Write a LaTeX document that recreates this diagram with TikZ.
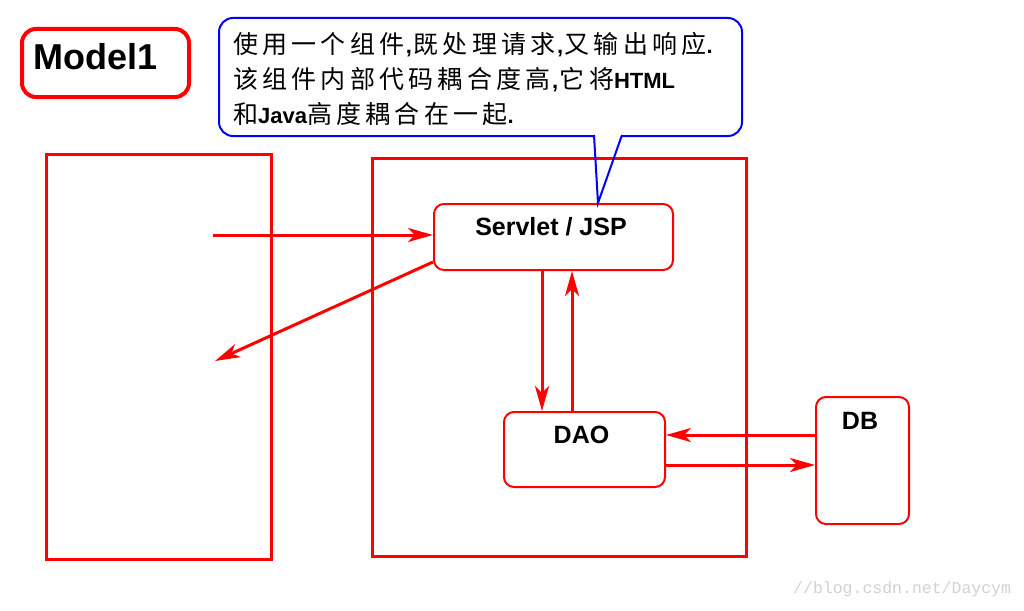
\documentclass[tikz,border=0pt]{standalone}
\usepackage{fontspec}
\setmainfont{Liberation Sans}
\newfontfamily\cjkfont[LetterSpace=17]{Noto Sans CJK SC}
\newfontfamily\wmfont{Liberation Mono}
\usetikzlibrary{arrows.meta,calc}
\newcommand\cj[1]{{\cjkfont\mdseries\fontsize{25}{34}\selectfont #1}}
\newcommand\cm{\hspace{1.5pt},\hspace{1.5pt}}
\begin{document}
\begin{tikzpicture}[x=1pt,y=-1pt,
  frame/.style={draw=red, line width=3pt, inner sep=0pt, anchor=north west},
  rbox/.style={draw=red, line width=2pt, rounded corners=10pt, inner sep=0pt, anchor=north west},
  arr/.style={red, line width=3pt, -{Stealth[length=25pt,width=14pt,inset=7pt]}},
  lbl/.style={font=\fontsize{25}{30}\selectfont\bfseries, anchor=base, inner sep=0pt},
  noteline/.style={anchor=base west, inner sep=0pt, font=\fontsize{22}{34}\selectfont\bfseries}]
\useasboundingbox (0,0) rectangle (1024,610);
% Model1 label
\node[draw=red, line width=4pt, rounded corners=14pt, minimum width=167pt, minimum height=68pt, anchor=north west, inner sep=0pt] (mbox) at (20,27) {};
\node[font=\fontsize{36}{40}\selectfont\bfseries, anchor=base, inner sep=0pt] (mtext) at (95.5,70) {Model1};
% callout
\node[draw=blue, line width=2pt, rounded corners=14pt, minimum width=523pt, minimum height=118pt, anchor=north west, inner sep=0pt, fill=white] (note) at (218,17) {};
\coordinate (tb1) at (594,135);
\coordinate (tb2) at (622,135);
\coordinate (tip) at (598,203);
\fill[white] (594,132.5) -- (tip) -- (622,132.5) -- cycle;
\node[noteline] (l1) at (233,54) {\cj{使用一个组件}\cm\cj{既处理请求}\cm\cj{又输出响应}.};
\node[noteline] (l2) at (233,88) {\cj{该组件内部代码耦合度高}\cm\cj{它将}HTML};
\node[noteline] (l3) at (233,123) {\cj{和}Java\cj{高度耦合在一起}.};
% frames
\node[frame, minimum width=225pt, minimum height=405pt] (client) at (45,153) {};
\node[frame, minimum width=374pt, minimum height=398pt] (server) at (371,157) {};
\node[rbox, minimum width=239pt, minimum height=66pt] (serv) at (433,203) {};
\node[rbox, minimum width=161pt, minimum height=75pt] (dao) at (503,411) {};
\node[rbox, minimum width=93pt, minimum height=127pt] (db) at (815,396) {};
\node[lbl] (servt) at (551,235) {Servlet / JSP};
\node[lbl] (daot) at (581.5,443) {DAO};
\node[lbl] (dbt) at (860,429) {DB};
% arrows
\coordinate (in1) at (213,235);
\coordinate (out1) at (215,361);
\draw[arr] (in1) -- (serv.west |- in1);
\draw[arr] ($(serv.west)+(0,25)$) -- (out1);
\draw[arr] ($(serv.south west)+(109,0)$) -- ($(dao.north west)+(39,0)$);
\draw[arr] ($(dao.north west)+(69,0)$) -- ($(serv.south west)+(139,0)$);
\draw[arr] ($(db.north west)+(0,39)$) -- ($(dao.north east)+(0,24)$);
\draw[arr] ($(dao.north east)+(0,54)$) -- ($(db.north west)+(0,69)$);
% tail lines
\draw[blue, line width=2pt] (tb1) -- (tip) -- (tb2);
% watermark
\node[anchor=base west, font=\wmfont\fontsize{16.5}{18}\selectfont, text=black!18, inner sep=0pt] (wm) at (793,593) {//blog.csdn.net/Daycym};
\end{tikzpicture}
\end{document}
